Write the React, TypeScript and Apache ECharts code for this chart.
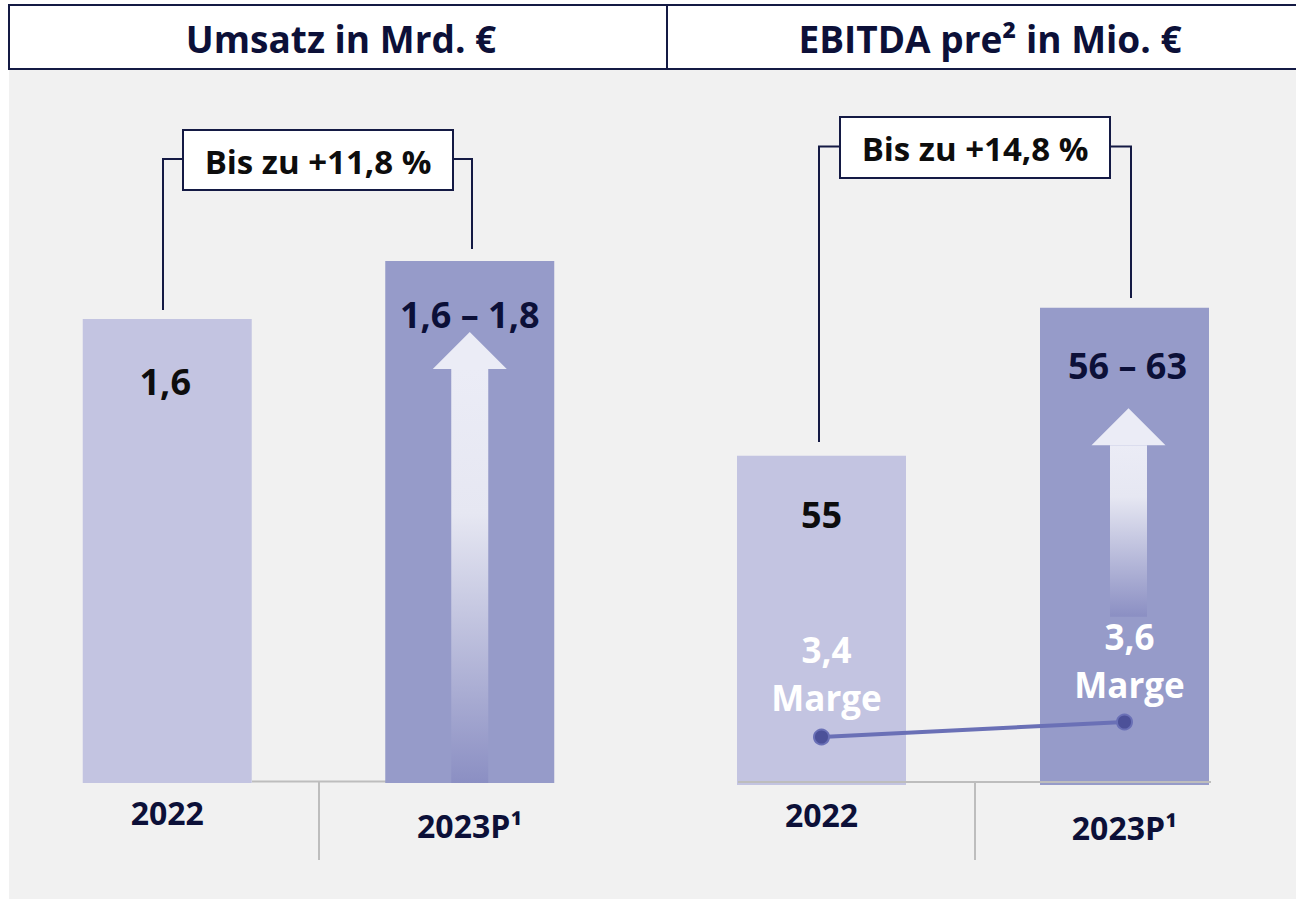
import React, { useEffect, useRef } from "react";
import * as echarts from "echarts";

// ---- data ----
const categories = ["2022", "2023P¹"];
const revenue = [1.6, 1.8];
const revenueLabels = ["1,6", "1,6 – 1,8"];
const ebitda = [55, 63];
const ebitdaLabels = ["55", "56 – 63"];
const margin = [3.4, 3.6];
const marginLabels = ["3,4", "3,6"];
const panelTitles = ["Umsatz in Mrd. €", "EBITDA pre² in Mio. €"];
const growthLabels = ["Bis zu +11,8 %", "Bis zu +14,8 %"];
// arrows: [category index, from value, to value]
const revenueArrow = [[1, 0, 1.555]];
const ebitdaArrow = [[1, 46.3, 57.56]];

const FONT = "'Open Sans', 'Noto Sans', sans-serif";
const NAVY = "#0c1038";
const LIGHT = "#c3c4e1";
const DARK = "#969bc9";
const LINE_GRAY = "#bdbdbd";

function arrowRenderer(fadeStop: number, dx: number) {
  return (params: any, api: any) => {
    const cat = api.value(0);
    const from = api.value(1);
    const to = api.value(2);
    const base = api.coord([cat, from]);
    const tip = api.coord([cat, to]);
    const x = tip[0] + dx;
    const headH = 37;
    const headW = 74;
    const shaftW = 37;
    return {
      type: "group",
      children: [
        {
          type: "rect",
          shape: { x: x - shaftW / 2, y: tip[1] + headH, width: shaftW, height: base[1] - tip[1] - headH },
          style: {
            fill: new echarts.graphic.LinearGradient(0, 0, 0, 1, [
              { offset: 0, color: "#ebecf6" },
              { offset: fadeStop, color: "#e6e7f2" },
              { offset: 1, color: "#8b8fc3" },
            ]),
          },
        },
        {
          type: "polygon",
          shape: { points: [[x, tip[1]], [x + headW / 2, tip[1] + headH], [x - headW / 2, tip[1] + headH]] },
          style: { fill: "#ebecf6" },
        },
      ],
    };
  };
}

function bracket(lx: number, lyBottom: number, rx: number, ryBottom: number, boxX: number, boxY: number, boxW: number, boxH: number, text: string) {
  const midY = boxY + boxH / 2 - 1;
  const stroke = { stroke: "#141a44", lineWidth: 2 };
  return [
    { type: "polyline", z: 5, shape: { points: [[lx, lyBottom], [lx, midY], [boxX, midY]] }, style: { ...stroke, fill: null } },
    { type: "polyline", z: 5, shape: { points: [[boxX + boxW, midY], [rx, midY], [rx, ryBottom]] }, style: { ...stroke, fill: null } },
    { type: "rect", z: 5, shape: { x: boxX, y: boxY, width: boxW, height: boxH }, style: { fill: "#ffffff", ...stroke } },
    {
      type: "text", z: 6, x: boxX + boxW / 2, y: boxY + boxH / 2 + 1,
      style: { text, fill: "#0d0d0d", font: `bold 33px ${FONT}`, align: "center", verticalAlign: "middle" },
    },
  ];
}

export default function App() {
  const ref = useRef<HTMLDivElement>(null);
  useEffect(() => {
    document.body.style.margin = "0";
    const chart = echarts.init(ref.current!, null, { renderer: "svg" });
    const xAxisData = categories.map((c, i) =>
      i === 0 ? { value: c } : { value: c, textStyle: { lineHeight: 58 } }
    );
    const xAxisCommon = {
      type: "category",
      data: xAxisData,
      axisLine: { show: false },
      axisTick: { show: false },
      axisLabel: { color: NAVY, fontFamily: FONT, fontWeight: "bold", fontSize: 32, margin: 13, lineHeight: 32 },
      splitLine: { show: false },
    };
    const hiddenY = { axisLine: { show: false }, axisTick: { show: false }, axisLabel: { show: false }, splitLine: { show: false } };
    const barLabel = (labels: string[], dists: number[], offsets: number[]) =>
      labels.map((l, i) => ({
        show: true,
        position: "insideTop",
        distance: dists[i],
        offset: [offsets[i], 0],
        formatter: l,
        color: i === 0 ? "#0d0d0d" : NAVY,
        fontFamily: FONT,
        fontWeight: "bold",
        fontSize: 36,
        lineHeight: 36,
      }));
    const revLabels = barLabel(revenueLabels, [44, 35], [-2, 0]);
    const ebLabels = barLabel(ebitdaLabels, [41, 40], [0, 3]);

    chart.setOption({
      animation: false,
      grid: [
        { left: 16, right: 675, top: 87, bottom: 118 },
        { left: 670, right: 20, top: 119, bottom: 116 },
      ],
      xAxis: [
        { ...xAxisCommon, gridIndex: 0 },
        { ...xAxisCommon, gridIndex: 1 },
      ],
      yAxis: [
        { type: "value", gridIndex: 0, min: 0, max: 2.4, ...hiddenY },
        { type: "value", gridIndex: 1, min: 37.2, max: 73.2, ...hiddenY },
        { type: "value", gridIndex: 1, min: 2.76, max: 11.64, position: "right", ...hiddenY },
      ],
      graphic: [
        { type: "rect", z: -10, shape: { x: 9, y: 70, width: 1287, height: 829 }, style: { fill: "#f1f1f1" } },
        { type: "rect", z: -9, shape: { x: 9, y: 5, width: 1300, height: 64 }, style: { fill: "#ffffff", stroke: "#141a44", lineWidth: 2 } },
        { type: "line", z: -8, shape: { x1: 667, y1: 5, x2: 667, y2: 69 }, style: { stroke: "#141a44", lineWidth: 2 } },
        {
          type: "text", x: 341, y: 38,
          style: { text: panelTitles[0], fill: NAVY, font: `bold 37px ${FONT}`, align: "center", verticalAlign: "middle" },
        },
        {
          type: "text", x: 990, y: 38,
          style: { text: panelTitles[1], fill: NAVY, font: `bold 37px ${FONT}`, align: "center", verticalAlign: "middle" },
        },
        // baselines and separators
        { type: "line", z: -5, shape: { x1: 252, y1: 781.5, x2: 386, y2: 781.5 }, style: { stroke: LINE_GRAY, lineWidth: 2 } },
        { type: "line", z: -5, shape: { x1: 319, y1: 781.5, x2: 319, y2: 860 }, style: { stroke: LINE_GRAY, lineWidth: 2 } },
        { type: "line", z: 10, shape: { x1: 738, y1: 782, x2: 1211, y2: 782 }, style: { stroke: LINE_GRAY, lineWidth: 2 } },
        { type: "line", z: 10, shape: { x1: 975, y1: 782, x2: 975, y2: 860 }, style: { stroke: LINE_GRAY, lineWidth: 2 } },
        ...bracket(163, 310, 472, 249, 183, 130, 270, 60, growthLabels[0]),
        ...bracket(819, 442, 1131, 298, 840, 117, 270, 61, growthLabels[1]),
      ],
      series: [
        {
          type: "bar",
          xAxisIndex: 0,
          yAxisIndex: 0,
          barWidth: 169,
          z: 2,
          data: revenue.map((v, i) => ({ value: v, itemStyle: { color: i === 0 ? LIGHT : DARK }, label: revLabels[i] })),
        },
        {
          type: "bar",
          xAxisIndex: 1,
          yAxisIndex: 1,
          barWidth: 169,
          z: 2,
          data: ebitda.map((v, i) => ({ value: v, itemStyle: { color: i === 0 ? LIGHT : DARK }, label: ebLabels[i] })),
        },
        {
          type: "custom",
          xAxisIndex: 0,
          yAxisIndex: 0,
          z: 3,
          encode: { x: 0, y: [1, 2] },
          renderItem: arrowRenderer(0.35, 0),
          data: revenueArrow,
        },
        {
          type: "custom",
          xAxisIndex: 1,
          yAxisIndex: 1,
          z: 3,
          encode: { x: 0, y: [1, 2] },
          renderItem: arrowRenderer(0.3, 4),
          data: ebitdaArrow,
        },
        {
          type: "line",
          xAxisIndex: 1,
          yAxisIndex: 2,
          z: 4,
          symbol: "circle",
          symbolSize: 15,
          lineStyle: { color: "#6a70b6", width: 4 },
          itemStyle: { color: "#4c5199", borderColor: "#6a70b6", borderWidth: 2 },
          data: margin.map((v, i) => ({
            value: v,
            label: {
              show: true,
              position: "top",
              distance: i === 0 ? 7 : 5,
              offset: [5, 0],
              formatter: `${marginLabels[i]}\nMarge`,
              color: "#ffffff",
              fontFamily: FONT,
              fontWeight: "bold",
              fontSize: 35,
              lineHeight: 48,
              align: "center",
            },
          })),
        },
      ],
    });
    return () => chart.dispose();
  }, []);
  return <div ref={ref} style={{ width: 1296, height: 901 }} />;
}
